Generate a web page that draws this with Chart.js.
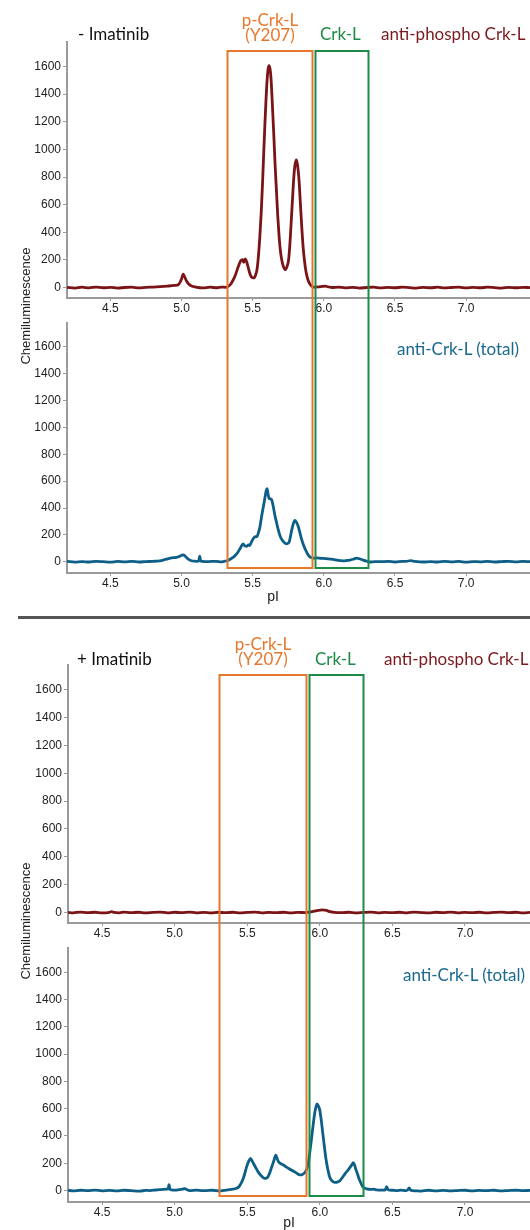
<!DOCTYPE html>
<html>
<head>
<meta charset="utf-8">
<script src="https://cdn.jsdelivr.net/npm/chart.js@4.4.1/dist/chart.umd.min.js"></script>
<style>
  html, body { margin: 0; padding: 0; background: #fff; }
  body { width: 530px; height: 1230px; position: relative; overflow: hidden; font-family: 'Liberation Sans', Arial, sans-serif; }
  canvas { position: absolute; left: 0; }
  .lbl { position: absolute; font-family: Lato, 'Open Sans', sans-serif; font-size: 17px; line-height: 17px; white-space: nowrap; transform: translateY(-50%); }
  .mid { transform: translate(-50%, -50%); text-align: center; }
  .ytitle { position: absolute; font-size: 13px; color: #222; white-space: nowrap; transform: translate(-50%, -50%) rotate(-90deg); }
  .xtitle { position: absolute; font-size: 14px; color: #222; transform: translate(-50%, -50%); }
  .sep { position: absolute; left: 18px; right: 0; top: 616px; height: 3px; background: #555; }
</style>
</head>
<body>
<canvas id="c1" width="530" height="314" style="top:0"></canvas>
<canvas id="c2" width="530" height="290" style="top:314px"></canvas>
<div class="sep"></div>
<canvas id="c3" width="530" height="314" style="top:625px"></canvas>
<canvas id="c4" width="530" height="291" style="top:939px"></canvas>

<div class="lbl" style="left:78px; top:33px; color:#111">- Imatinib</div>
<div class="lbl mid" style="left:270px; top:27px; color:#e8772e; line-height:14.5px">p-Crk-L<br>(Y207)</div>
<div class="lbl" style="left:320px; top:33px; color:#1d8a47">Crk-L</div>
<div class="lbl" style="left:381px; top:33px; color:#7b1a1e">anti-phospho Crk-L</div>
<div class="lbl" style="left:397px; top:348px; color:#1a6a90">anti-Crk-L (total)</div>
<div class="ytitle" style="left:25px; top:306px">Chemiluminescence</div>
<div class="xtitle" style="left:273px; top:596px">pI</div>

<div class="lbl" style="left:77px; top:658px; color:#111">+ Imatinib</div>
<div class="lbl mid" style="left:263px; top:651px; color:#e8772e; line-height:14.5px">p-Crk-L<br>(Y207)</div>
<div class="lbl" style="left:315px; top:658px; color:#1d8a47">Crk-L</div>
<div class="lbl" style="left:384px; top:658px; color:#7b1a1e">anti-phospho Crk-L</div>
<div class="lbl" style="left:403px; top:974px; color:#1a6a90">anti-Crk-L (total)</div>
<div class="ytitle" style="left:25px; top:921px">Chemiluminescence</div>
<div class="xtitle" style="left:289px; top:1222px">pI</div>

<script>
// tick values
const xTicks = [4.5, 5.0, 5.5, 6.0, 6.5, 7.0];
const yTicks = [0, 200, 400, 600, 800, 1000, 1200, 1400, 1600];

// boxed pI windows [from, to]
const pCrkWindowMinus = [5.32, 5.915];
const crkWindowMinus = [5.938, 6.31];
const pCrkWindowPlus = [5.305, 5.903];
const crkWindowPlus = [5.926, 6.297];

// [pI, chemiluminescence]
const phosphoMinus = [
  [4.195, 2], [4.25, -3], [4.30, 3], [4.35, -2], [4.40, 4], [4.45, -1], [4.50, 2], [4.55, -3],
  [4.60, 1], [4.65, 3], [4.70, -2], [4.75, 2], [4.80, 4], [4.85, 7], [4.90, 11], [4.95, 16],
  [4.98, 24], [5.00, 62], [5.011, 98], [5.02, 82], [5.035, 48], [5.05, 26], [5.07, 12], [5.10, 4],
  [5.15, -2], [5.20, 3], [5.25, -1], [5.28, 4], [5.31, 2], [5.34, 18], [5.36, 50], [5.38, 95],
  [5.397, 147], [5.416, 195], [5.428, 203], [5.437, 183], [5.447, 208], [5.458, 186], [5.468, 148],
  [5.48, 102], [5.492, 76], [5.508, 70], [5.52, 90], [5.531, 135], [5.54, 225], [5.55, 364],
  [5.56, 545], [5.569, 750], [5.577, 960], [5.585, 1160], [5.593, 1345], [5.601, 1497], [5.608, 1578],
  [5.615, 1606], [5.622, 1582], [5.629, 1510], [5.638, 1330], [5.648, 1115], [5.657, 900], [5.667, 702],
  [5.676, 522], [5.686, 365], [5.695, 264], [5.705, 196], [5.716, 152], [5.728, 130], [5.74, 150],
  [5.752, 198], [5.761, 305], [5.77, 462], [5.78, 642], [5.789, 798], [5.798, 892], [5.808, 924],
  [5.817, 872], [5.826, 775], [5.835, 612], [5.845, 437], [5.854, 300], [5.864, 196], [5.873, 126],
  [5.883, 76], [5.892, 46], [5.902, 27], [5.915, 10], [5.93, 3], [5.96, 5], [5.99, 9], [6.01, 11],
  [6.03, 6], [6.06, 1], [6.10, 4], [6.15, -2], [6.20, 2], [6.25, -3], [6.30, 1], [6.35, 3],
  [6.40, -2], [6.45, 2], [6.50, -1], [6.55, 3], [6.60, 0], [6.65, -3], [6.70, 2], [6.75, -1],
  [6.80, 3], [6.85, -2], [6.90, 1], [6.95, 3], [7.00, -2], [7.05, 2], [7.10, -1], [7.15, 3],
  [7.20, 0], [7.25, -3], [7.30, 2], [7.35, -1], [7.40, 2], [7.449, 0]
];

const totalMinus = [
  [4.195, 2], [4.25, -3], [4.30, 1], [4.35, -2], [4.40, 3], [4.45, 0], [4.50, -3], [4.55, 2],
  [4.60, -1], [4.65, 2], [4.70, -2], [4.75, 1], [4.80, 3], [4.847, 7], [4.88, 15], [4.917, 25],
  [4.94, 30], [4.964, 32], [4.99, 42], [5.011, 51], [5.022, 45], [5.034, 32], [5.05, 18], [5.07, 7],
  [5.09, 4], [5.105, 3], [5.12, 4], [5.128, 41], [5.135, 5], [5.15, 2], [5.175, 0], [5.21, 3],
  [5.245, 2], [5.28, -1], [5.30, 3], [5.32, 7], [5.34, 18], [5.362, 32], [5.38, 50], [5.397, 73],
  [5.415, 105], [5.433, 133], [5.445, 118], [5.457, 114], [5.47, 125], [5.48, 121], [5.49, 145],
  [5.503, 170], [5.515, 185], [5.531, 189], [5.54, 215], [5.55, 254], [5.56, 320], [5.573, 399],
  [5.585, 470], [5.595, 530], [5.601, 544], [5.608, 505], [5.615, 471], [5.625, 468], [5.634, 460],
  [5.645, 410], [5.655, 351], [5.667, 295], [5.679, 242], [5.69, 200], [5.702, 170], [5.72, 145],
  [5.738, 133], [5.748, 138], [5.756, 145], [5.765, 185], [5.773, 230], [5.785, 280], [5.796, 307],
  [5.807, 295], [5.819, 266], [5.831, 220], [5.843, 170], [5.857, 125], [5.871, 90], [5.885, 60],
  [5.902, 36], [5.915, 30], [5.925, 27], [5.95, 28], [5.975, 26], [5.995, 25], [6.03, 22],
  [6.065, 17], [6.10, 10], [6.136, 7], [6.16, 9], [6.183, 12], [6.21, 20], [6.23, 27], [6.25, 22],
  [6.276, 12], [6.30, 4], [6.324, -2], [6.36, 1], [6.40, 0], [6.45, 3], [6.50, -2], [6.55, 2],
  [6.58, 3], [6.61, 8], [6.64, 3], [6.70, -2], [6.75, 1], [6.80, -2], [6.85, 2], [6.90, -1],
  [6.95, 2], [7.00, -3], [7.05, 1], [7.10, -1], [7.15, 2], [7.20, -2], [7.25, 1], [7.30, 3],
  [7.35, -1], [7.40, 2], [7.449, 0]
];

const phosphoPlus = [
  [4.265, 1], [4.30, -2], [4.35, 3], [4.40, -1], [4.45, 2], [4.50, -2], [4.55, 2], [4.566, 7],
  [4.58, 1], [4.62, -2], [4.65, 3], [4.70, -1], [4.75, 2], [4.80, -3], [4.85, 1], [4.90, 3],
  [4.95, -2], [5.00, 2], [5.05, -1], [5.10, 3], [5.15, -2], [5.20, 1], [5.25, -3], [5.30, 2],
  [5.35, -1], [5.40, 2], [5.45, -2], [5.50, 1], [5.55, 3], [5.60, -2], [5.65, 1], [5.70, -1],
  [5.75, 2], [5.80, -2], [5.85, 1], [5.90, 0], [5.93, 3], [5.96, 10], [5.99, 16], [6.02, 19],
  [6.045, 15], [6.07, 6], [6.10, 1], [6.15, -1], [6.20, 2], [6.25, -2], [6.30, 1], [6.35, 3],
  [6.40, -2], [6.45, 1], [6.50, -1], [6.55, 2], [6.60, -2], [6.65, 3], [6.70, 0], [6.75, -2],
  [6.80, 2], [6.85, -1], [6.90, 3], [6.95, -2], [7.00, 1], [7.05, -1], [7.10, 2], [7.15, -2],
  [7.20, 1], [7.25, 3], [7.30, -1], [7.35, 2], [7.40, -2], [7.448, 1]
];

const totalPlus = [
  [4.265, 2], [4.30, -2], [4.35, 2], [4.40, -1], [4.45, 3], [4.50, -2], [4.55, 1], [4.60, -3],
  [4.65, 2], [4.70, -1], [4.759, -4], [4.80, 1], [4.828, 0], [4.87, 4], [4.897, 7], [4.943, 10],
  [4.955, 12], [4.961, 43], [4.967, 10], [4.977, 5], [5.00, 3], [5.03, 6], [5.055, 10], [5.069, 14],
  [5.085, 6], [5.103, 0], [5.15, 3], [5.19, -1], [5.219, 0], [5.26, 2], [5.31, -4], [5.34, 1],
  [5.368, 5], [5.40, 10], [5.426, 17], [5.44, 25], [5.448, 36], [5.46, 58], [5.471, 84], [5.483, 125],
  [5.494, 168], [5.508, 210], [5.522, 235], [5.537, 210], [5.552, 180], [5.569, 148], [5.586, 120],
  [5.604, 100], [5.621, 89], [5.633, 92], [5.643, 101], [5.655, 130], [5.667, 168], [5.682, 215],
  [5.697, 259], [5.708, 228], [5.719, 206], [5.74, 192], [5.759, 180], [5.776, 168], [5.793, 156],
  [5.816, 144], [5.84, 128], [5.862, 115], [5.88, 118], [5.897, 132], [5.908, 155], [5.919, 192],
  [5.931, 280], [5.943, 383], [5.955, 490], [5.966, 576], [5.974, 615], [5.981, 635], [5.99, 620],
  [6.0, 588], [6.01, 515], [6.019, 432], [6.03, 335], [6.041, 240], [6.055, 155], [6.069, 96],
  [6.085, 70], [6.103, 60], [6.12, 62], [6.138, 72], [6.155, 95], [6.172, 120], [6.19, 145],
  [6.207, 168], [6.22, 188], [6.23, 204], [6.24, 185], [6.248, 156], [6.26, 120], [6.271, 84],
  [6.283, 55], [6.294, 29], [6.308, 18], [6.322, 12], [6.35, 8], [6.37, 10], [6.391, 5], [6.42, 3],
  [6.45, 4], [6.46, 29], [6.47, 6], [6.50, 2], [6.529, 0], [6.56, 3], [6.59, -1], [6.605, 4],
  [6.616, 19], [6.625, 3], [6.66, -2], [6.69, -4], [6.72, 0], [6.75, 2], [6.80, -2], [6.85, 1],
  [6.90, -3], [6.95, 0], [7.00, 2], [7.05, -2], [7.10, 1], [7.15, -1], [7.20, 2], [7.25, -3],
  [7.30, 0], [7.35, 2], [7.40, -1], [7.448, 1]
];

const ORANGE = '#e8772e';
const GREEN = '#1d8a47';
const RED = '#7a1417';
const TEAL = '#0d5f87';
const AXIS = '#9a9a9a';

// draws the two pI windows as open boxes running across two stacked panels
const windowBoxes = {
  id: 'windowBoxes',
  afterDatasetsDraw(chart, args, opts) {
    const { ctx, scales: { x } } = chart;
    const h = chart.height;
    ctx.save();
    ctx.lineWidth = 2;
    opts.boxes.forEach(b => {
      const l = Math.round(x.getPixelForValue(b.range[0])) + 0.5;
      const r = Math.round(x.getPixelForValue(b.range[1])) + 0.5;
      ctx.strokeStyle = b.color;
      ctx.beginPath();
      if (opts.top != null) {
        ctx.moveTo(l, h);
        ctx.lineTo(l, opts.top);
        ctx.lineTo(r, opts.top);
        ctx.lineTo(r, h);
      } else {
        ctx.moveTo(l, 0);
        ctx.lineTo(l, opts.bottom);
        ctx.lineTo(r, opts.bottom);
        ctx.lineTo(r, 0);
      }
      ctx.stroke();
    });
    ctx.restore();
  }
};

function panel(id, cfg) {
  const tickFont = { family: "'Liberation Sans', Arial, sans-serif", size: 12 };
  return new Chart(document.getElementById(id), {
    type: 'line',
    data: {
      datasets: [{
        data: cfg.points.map(p => ({ x: p[0], y: p[1] })),
        borderColor: cfg.color,
        borderWidth: 2.8,
        pointRadius: 0,
        cubicInterpolationMode: 'monotone',
        fill: false
      }]
    },
    options: {
      responsive: false,
      animation: false,
      devicePixelRatio: 1,
      layout: { padding: { top: cfg.padTop, left: 0, right: 0, bottom: 0 } },
      plugins: {
        legend: { display: false },
        tooltip: { enabled: false },
        windowBoxes: { boxes: cfg.boxes, top: cfg.boxTop, bottom: cfg.boxBottom }
      },
      scales: {
        x: {
          type: 'linear',
          min: cfg.xMin,
          max: cfg.xMax,
          afterBuildTicks: s => { s.ticks = xTicks.map(v => ({ value: v })); },
          afterFit: s => { s.height = cfg.xHeight; },
          ticks: { callback: v => v.toFixed(1), font: tickFont, color: '#222', padding: 0, maxRotation: 0, autoSkip: false },
          grid: { drawOnChartArea: false, drawTicks: true, tickLength: 3, color: AXIS },
          border: { display: true, color: AXIS, width: 2 }
        },
        y: {
          type: 'linear',
          min: cfg.yMin,
          max: 1777,
          afterBuildTicks: s => { s.ticks = yTicks.map(v => ({ value: v })); },
          afterFit: s => { s.width = cfg.yWidth; },
          ticks: { callback: v => String(v), font: tickFont, color: '#222', padding: 2 },
          grid: { drawOnChartArea: false, drawTicks: true, tickLength: 4, color: AXIS },
          border: { display: true, color: AXIS, width: 2 }
        }
      }
    },
    plugins: [windowBoxes]
  });
}

const boxesMinus = [
  { range: pCrkWindowMinus, color: ORANGE },
  { range: crkWindowMinus, color: GREEN }
];
const boxesPlus = [
  { range: pCrkWindowPlus, color: ORANGE },
  { range: crkWindowPlus, color: GREEN }
];

panel('c1', { points: phosphoMinus, color: RED, padTop: 42, xHeight: 16, yWidth: 67, yMin: -75,
  xMin: 4.195, xMax: 7.449, boxes: boxesMinus, boxTop: 51 });
panel('c2', { points: totalMinus, color: TEAL, padTop: 3, xHeight: 31, yWidth: 67, yMin: -84,
  xMin: 4.195, xMax: 7.449, boxes: boxesMinus, boxBottom: 254 });
panel('c3', { points: phosphoPlus, color: RED, padTop: 40, xHeight: 16, yWidth: 68, yMin: -75,
  xMin: 4.265, xMax: 7.448, boxes: boxesPlus, boxTop: 50 });
panel('c4', { points: totalPlus, color: TEAL, padTop: 4, xHeight: 28, yWidth: 68, yMin: -84,
  xMin: 4.265, xMax: 7.448, boxes: boxesPlus, boxBottom: 257 });
</script>
</body>
</html>
